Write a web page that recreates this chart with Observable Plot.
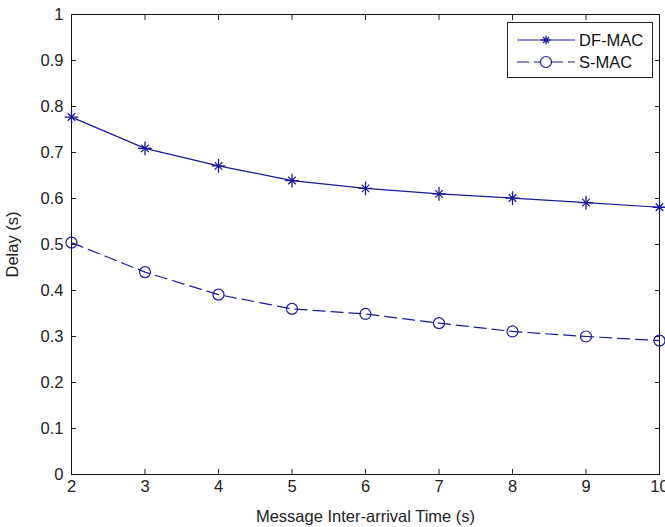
<!DOCTYPE html>
<html>
<head>
<meta charset="utf-8">
<script src="https://cdn.jsdelivr.net/npm/d3@7"></script>
<script src="https://cdn.jsdelivr.net/npm/@observablehq/plot@0.6"></script>
<style>
  html, body { margin: 0; padding: 0; background: #fff; }
  #wrap { position: relative; width: 665px; height: 527px; font-family: "Liberation Sans", Arial, sans-serif; }
  #legend { position: absolute; left: 507px; top: 22px; width: 146px; height: 56px; border: 1px solid #222; background: #fff; box-sizing: border-box; }
  #legend .row { position: absolute; left: 0; height: 22px; display: flex; align-items: center; }
  #legend .lab { font-size: 16.5px; color: #111; margin-left: 1px; }
</style>
</head>
<body>
<div id="wrap"></div>
<script>
const interArrival = [2, 3, 4, 5, 6, 7, 8, 9, 10];
const dfMac = [0.777, 0.709, 0.671, 0.639, 0.622, 0.610, 0.601, 0.591, 0.581];
const sMac  = [0.504, 0.440, 0.391, 0.360, 0.349, 0.329, 0.311, 0.300, 0.291];
const seriesNames = ["DF-MAC", "S-MAC"];
const xTicks = [2, 3, 4, 5, 6, 7, 8, 9, 10];
const yTicks = [0, 0.1, 0.2, 0.3, 0.4, 0.5, 0.6, 0.7, 0.8, 0.9, 1];
const xLabel = "Message Inter-arrival Time (s)";
const yLabel = "Delay (s)";

const color = "#1a1a96";
const df = interArrival.map((x, i) => ({x, y: dfMac[i]}));
const sm = interArrival.map((x, i) => ({x, y: sMac[i]}));

const chart = Plot.plot({
  width: 665,
  height: 527,
  marginLeft: 71,
  marginRight: 6,
  marginTop: 14,
  marginBottom: 53,
  style: {fontFamily: "Liberation Sans, Arial, sans-serif", fontSize: "16.5px", color: "#222", background: "#fff", overflow: "visible"},
  x: {domain: [2, 10]},
  y: {domain: [0, 1]},
  marks: [
    Plot.axisX({ticks: xTicks, tickSize: -5, tickPadding: 11, tickFormat: d => String(d), label: xLabel, labelAnchor: "center", labelArrow: "none", labelOffset: 47}),
    Plot.axisX({anchor: "top", ticks: xTicks, tickSize: -5, tickFormat: () => "", label: null}),
    Plot.axisY({ticks: yTicks, tickSize: -5, tickPadding: 13, tickFormat: d => String(+d.toFixed(1)), label: yLabel, labelAnchor: "center", labelArrow: "none", labelOffset: 65}),
    Plot.axisY({anchor: "right", ticks: yTicks, tickSize: -5, tickFormat: () => "", label: null}),
    Plot.frame({stroke: "#111", strokeWidth: 1}),
    Plot.line(df, {x: "x", y: "y", stroke: color, strokeWidth: 1.2}),
    Plot.dot(df, {x: "x", y: "y", symbol: "plus", r: 4.5, stroke: color, strokeWidth: 1.3}),
    Plot.dot(df, {x: "x", y: "y", symbol: "times", r: 3.5, stroke: color, strokeWidth: 1.3}),
    Plot.line(sm, {x: "x", y: "y", stroke: color, strokeWidth: 1.2, strokeDasharray: "12,6"}),
    Plot.dot(sm, {x: "x", y: "y", symbol: "circle", r: 5.5, stroke: color, strokeWidth: 1.2, fill: "none"})
  ]
});

const wrap = document.getElementById("wrap");
wrap.appendChild(chart);

// legend
const legend = document.createElement("div");
legend.id = "legend";
const rows = [
  {name: seriesNames[0], dash: null, marker: "star", top: 6},
  {name: seriesNames[1], dash: "12,5", marker: "circle", top: 28}
];
for (const r of rows) {
  const row = document.createElement("div");
  row.className = "row";
  row.style.top = r.top + "px";
  const ns = "http://www.w3.org/2000/svg";
  const s = document.createElementNS(ns, "svg");
  s.setAttribute("width", "66");
  s.setAttribute("height", "22");
  s.style.marginLeft = "4px";
  const ln = document.createElementNS(ns, "line");
  ln.setAttribute("x1", "5"); ln.setAttribute("x2", "63");
  ln.setAttribute("y1", "11"); ln.setAttribute("y2", "11");
  ln.setAttribute("stroke", color); ln.setAttribute("stroke-width", "1.2");
  if (r.dash) ln.setAttribute("stroke-dasharray", r.dash);
  s.appendChild(ln);
  if (r.marker === "star") {
    const p = document.createElementNS(ns, "path");
    p.setAttribute("d", "M34,6.5V15.5M29.5,11H38.5M31,8L37,14M37,8L31,14");
    p.setAttribute("stroke", color); p.setAttribute("stroke-width", "1.3"); p.setAttribute("fill", "none");
    s.appendChild(p);
  } else {
    const c = document.createElementNS(ns, "circle");
    c.setAttribute("cx", "34"); c.setAttribute("cy", "11"); c.setAttribute("r", "5.5");
    c.setAttribute("stroke", color); c.setAttribute("stroke-width", "1.2"); c.setAttribute("fill", "#fff");
    s.appendChild(c);
  }
  row.appendChild(s);
  const t = document.createElement("span");
  t.className = "lab";
  t.textContent = r.name;
  row.appendChild(t);
  legend.appendChild(row);
}
wrap.appendChild(legend);
</script>
</body>
</html>
